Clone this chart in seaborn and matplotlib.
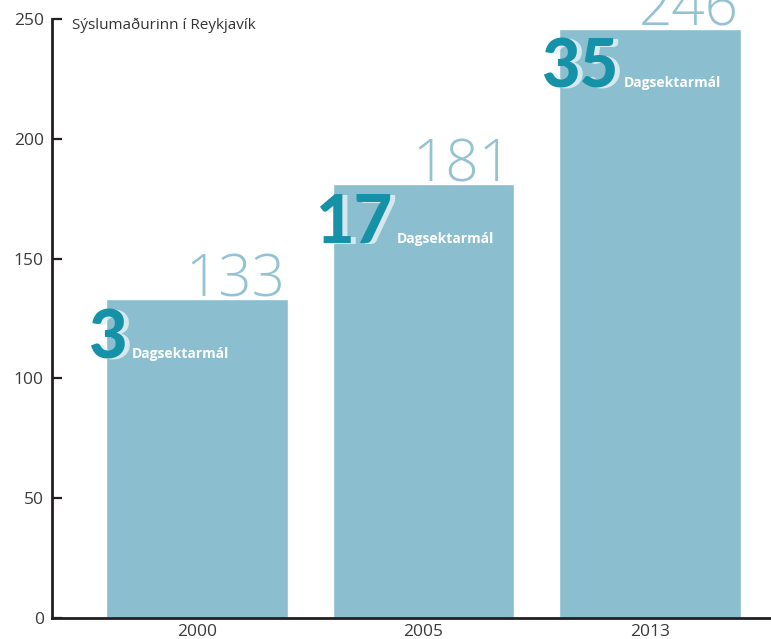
import matplotlib
matplotlib.use("Agg")
import matplotlib.pyplot as plt
import matplotlib.transforms as mtransforms
import seaborn as sns
import pandas as pd

years = ["2000", "2005", "2013"]
totals = [133, 181, 246]
dagsekt = [3, 17, 35]
title = "Sýslumaðurinn í Reykjavík"
sub_label = "Dagsektarmál"

sns.set_theme(style="white")
plt.rcParams['font.family'] = ['Open Sans', 'DejaVu Sans']

df = pd.DataFrame({"year": years, "total": totals})

fig = plt.figure(figsize=(7.71, 6.39), dpi=100)
ax = fig.add_axes([52/771, 21/639, 1 - 52/771, (618-19)/639])
sns.barplot(data=df, x="year", y="total", color="#8bbfcf", saturation=1,
            width=0.8, ax=ax)

ax.set_xlim(-0.64, 2.534)
ax.set_ylim(0, 250)
ax.set_yticks([0, 50, 100, 150, 200, 250])
ax.set_xlabel("")
ax.set_ylabel("")
for s in ["top", "right"]:
    ax.spines[s].set_visible(False)
for s in ["left", "bottom"]:
    ax.spines[s].set_color("#231f20")
    ax.spines[s].set_linewidth(2)
ax.tick_params(axis="y", direction="in", length=7, width=1.6, color="#231f20",
               labelsize=12.5, labelcolor="#3a3a3a", pad=6, left=True)
ax.tick_params(axis="x", length=0, labelsize=12.5, labelcolor="#3a3a3a", pad=4)

ax.text(0.028, 247.5, title,
        transform=mtransforms.blended_transform_factory(ax.transAxes, ax.transData),
        ha="left", va="center", fontsize=11, color="#333333")

nums = []
for i, (t, d) in enumerate(zip(totals, dagsekt)):
    ax.text(i + 0.392, t + 1.3, str(t), ha="right", va="baseline",
            fontsize=42, fontweight="light", color="#93c2d2", clip_on=False,
            family=["Open Sans", "DejaVu Sans"])
    shadow = mtransforms.offset_copy(ax.transData, fig=fig, x=5, y=-1, units="dots")
    ax.text(i - 0.48, t - 24.5, str(d), ha="left", va="baseline", transform=shadow,
            fontsize=48, fontweight="black", color="#e4f0f4", alpha=0.85,
            family=["Lato", "DejaVu Sans"])
    n = ax.text(i - 0.48, t - 24.5, str(d), ha="left", va="baseline",
                fontsize=48, fontweight="black", color="#1591a8",
                family=["Lato", "DejaVu Sans"])
    nums.append(n)

fig.canvas.draw()
r = fig.canvas.get_renderer()
for i, (t, n) in enumerate(zip(totals, nums)):
    bb = n.get_window_extent(r)
    xr = ax.transData.inverted().transform((bb.x1 + 5, 0))[0]
    ax.text(xr, t - 24.5, sub_label, ha="left", va="baseline",
            fontsize=10, fontweight="bold", color="white",
            family=["Open Sans", "DejaVu Sans"])

fig.savefig("out.png", dpi=100)
